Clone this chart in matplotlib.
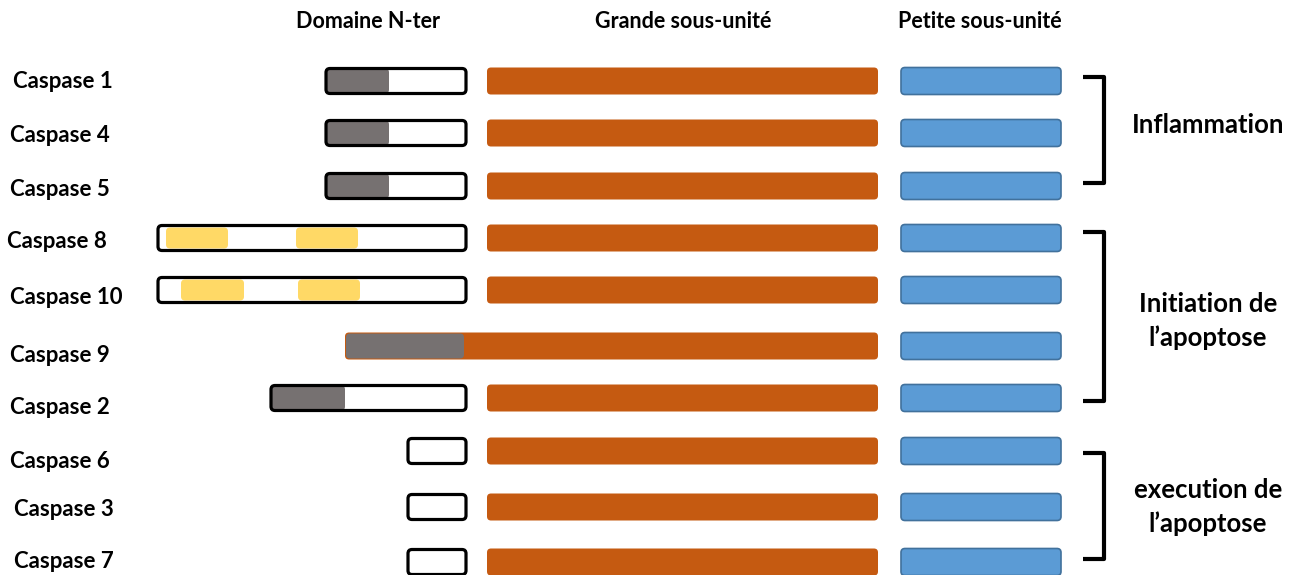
import matplotlib
matplotlib.use("Agg")
import matplotlib.pyplot as plt
from matplotlib.patches import FancyBboxPatch

plt.rcParams['font.family'] = ['Lato', 'DejaVu Sans']

# data (horizontal positions along the protein, in picture units)
caspases = ["Caspase 1", "Caspase 4", "Caspase 5", "Caspase 8", "Caspase 10",
            "Caspase 9", "Caspase 2", "Caspase 6", "Caspase 3", "Caspase 7"]
row_y = [81, 133, 186, 238, 290, 346, 398, 451, 507, 562]
label_x = [13, 10, 10, 7, 10, 10, 10, 10, 14, 14]
label_y = [82, 135, 190, 242, 297, 356, 408, 461, 510, 562]

# N-terminal prodomain box (None = no separate box)
nter_start = [326, 326, 326, 158, 158, None, 271, 408, 408, 408]
nter_end = [466, 466, 466, 466, 466, None, 466, 466, 466, 466]

# CARD domains (grey) and DED domains (yellow)
card = {0: (326, 389), 1: (326, 389), 2: (326, 389), 5: (346, 464), 6: (271, 345)}
ded = {3: [(166, 228), (296, 358)], 4: [(181, 244), (298, 360)]}

large_start = [487, 487, 487, 487, 487, 345, 487, 487, 487, 487]
large_end = 878
small_start = 901
small_end = 1061

headers = ["Domaine N-ter", "Grande sous-unité", "Petite sous-unité"]
header_x = [368, 683, 980]

groups = ["Inflammation", "Initiation de\nl\u2019apoptose", "execution de\nl\u2019apoptose"]
group_top = [77, 232, 453]
group_bottom = [183, 401, 559]
group_text_y = [125, 321, 507]

orange = "#C55A11"
blue = "#5B9BD5"
grey = "#767171"
yellow = "#FFD966"

fig = plt.figure(figsize=(13.02, 5.75), dpi=100)
ax = fig.add_axes([0, 0, 1, 1])
ax.set_xlim(0, 1302)
ax.set_ylim(575, 0)
ax.axis("off")

h = 27


def box(x0, x1, y, height, fc, ec="none", lw=0, z=2, r=4):
    p = FancyBboxPatch((x0, y - height / 2), x1 - x0, height,
                       boxstyle=f"round,pad=0,rounding_size={r}",
                       fc=fc, ec=ec, lw=lw, zorder=z)
    ax.add_patch(p)


for i, name in enumerate(caspases):
    y = row_y[i]
    ax.text(label_x[i], label_y[i], name, fontsize=16, fontweight="bold",
            ha="left", va="center")
    # large and small subunits
    box(large_start[i], large_end, y, h, orange)
    box(small_start, small_end, y, h, blue, ec="#41719C", lw=1.2)
    if i in card:
        c0, c1 = card[i]
        box(c0, c1, y, h - 2, grey, z=3)
    for d0, d1 in ded.get(i, []):
        box(d0, d1, y, 21, yellow, z=3)
    if nter_start[i] is not None:
        box(nter_start[i], nter_end[i], y, h - 2, "none", ec="black", lw=2.3, z=4)

for t, x in zip(headers, header_x):
    ax.text(x, 22, t, fontsize=15.5, fontweight="bold", ha="center", va="center")

bx = 1104
for t0, t1, ty, g in zip(group_top, group_bottom, group_text_y, groups):
    ax.plot([1083, bx, bx, 1083], [t0, t0, t1, t1], color="black", lw=3,
            solid_joinstyle="round", solid_capstyle="butt")
    ax.text(1208, ty, g, fontsize=18.5, fontweight="bold", ha="center",
            va="center", linespacing=1.42)

fig.savefig("out.png", dpi=100)
